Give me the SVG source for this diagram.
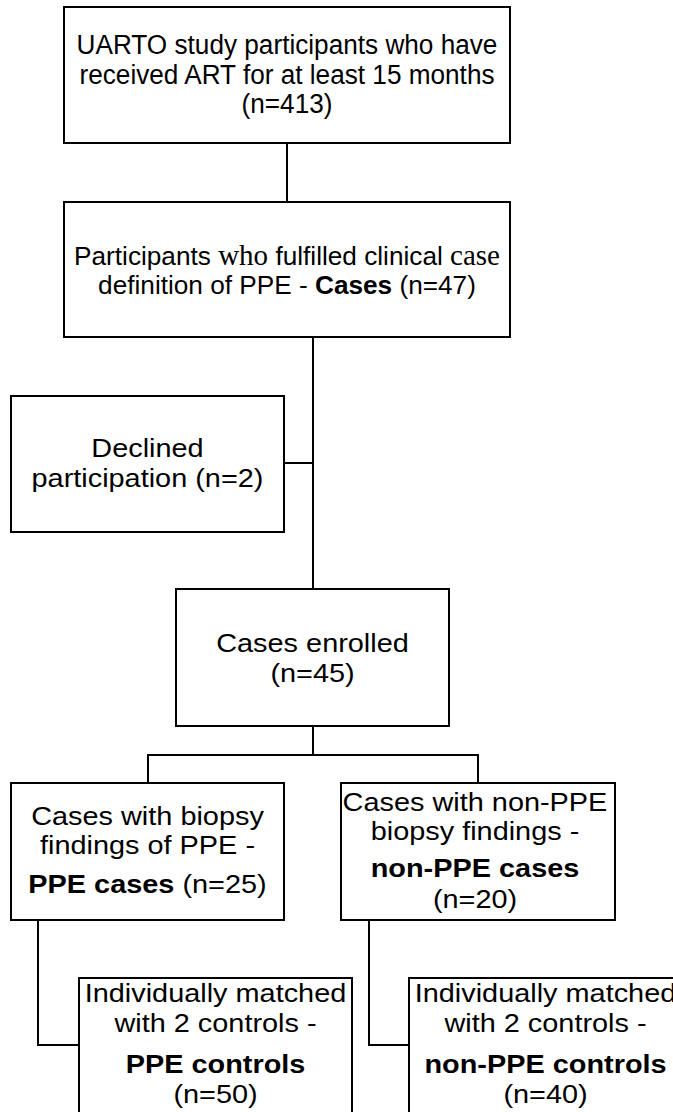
<svg xmlns="http://www.w3.org/2000/svg" width="673" height="1112" viewBox="0 0 673 1112">
  <style>
    .box { fill: #ffffff; stroke: #000000; stroke-width: 2; }
    .link { fill: none; stroke: #000000; stroke-width: 2; }
    text { font-family: "Liberation Sans", Arial, sans-serif; fill: #000000; text-anchor: middle; }
    .t28 { font-size: 28px; }
    .t26 { font-size: 26.2px; }
    .t27 { font-size: 26.5px; }
    .serif { font-family: "Liberation Serif", "Times New Roman", serif; font-size: 29px; }
    .b { font-weight: bold; }
  </style>
  <rect width="673" height="1112" fill="#ffffff"/>

  <!-- connectors -->
  <g id="connectors">
    <path class="link" d="M287,143 V202"/>
    <path class="link" d="M313,337 V589"/>
    <path class="link" d="M284,463 H313"/>
    <path class="link" d="M313,726 V755"/>
    <path class="link" d="M148,783 V755 H478 V783"/>
    <path class="link" d="M38,920 V1045 H79"/>
    <path class="link" d="M369,920 V1045 H409"/>
  </g>

  <!-- study population -->
  <g id="node-uarto">
    <rect class="box" x="64" y="7" width="446" height="136"/>
    <text class="t28" transform="translate(287,54) scale(0.935,1)">UARTO study participants who have</text>
    <text class="t28" transform="translate(287,84) scale(0.935,1)">received ART for at least 15 months</text>
    <text class="t28" transform="translate(287,113) scale(0.935,1)">(n=413)</text>
  </g>

  <!-- clinical case definition -->
  <g id="node-cases">
    <rect class="box" x="64" y="202" width="446" height="135"/>
    <text class="t26" x="287" y="265">Participants <tspan class="serif">who</tspan> fulfilled clinical <tspan class="serif">case</tspan></text>
    <text class="t26" x="287" y="294">definition of PPE - <tspan class="b">Cases</tspan> (n=47)</text>
  </g>

  <!-- declined -->
  <g id="node-declined">
    <rect class="box" x="11" y="396" width="273" height="136"/>
    <text class="t27" transform="translate(147.5,457) scale(1.09,1)">Declined</text>
    <text class="t27" transform="translate(147.5,487) scale(1.09,1)">participation (n=2)</text>
  </g>

  <!-- enrolled -->
  <g id="node-enrolled">
    <rect class="box" x="176" y="589" width="273" height="137"/>
    <text class="t27" transform="translate(312.5,652) scale(1.09,1)">Cases enrolled</text>
    <text class="t27" transform="translate(312.5,682) scale(1.09,1)">(n=45)</text>
  </g>

  <!-- PPE cases -->
  <g id="node-ppe-cases">
    <rect class="box" x="11" y="783" width="273" height="137"/>
    <text class="t27" transform="translate(147.5,825) scale(1.09,1)">Cases with biopsy</text>
    <text class="t27" transform="translate(147.5,854) scale(1.09,1)">findings of PPE -</text>
    <text class="t27" transform="translate(147.5,893) scale(1.09,1)"><tspan class="b">PPE cases</tspan> (n=25)</text>
  </g>

  <!-- non-PPE cases -->
  <g id="node-nonppe-cases">
    <rect class="box" x="341" y="783" width="274" height="137"/>
    <text class="t27" transform="translate(475,811) scale(1.09,1)">Cases with non-PPE</text>
    <text class="t27" transform="translate(475,840) scale(1.09,1)">biopsy findings -</text>
    <text class="t27 b" transform="translate(475,877) scale(1.09,1)">non-PPE cases</text>
    <text class="t27" transform="translate(475,908) scale(1.09,1)">(n=20)</text>
  </g>

  <!-- PPE controls -->
  <g id="node-ppe-controls">
    <rect class="box" x="79" y="978" width="273" height="150"/>
    <text class="t27" transform="translate(215.5,1002) scale(1.09,1)">Individually matched</text>
    <text class="t27" transform="translate(215.5,1032) scale(1.09,1)">with 2 controls -</text>
    <text class="t27 b" transform="translate(215.5,1073) scale(1.09,1)">PPE controls</text>
    <text class="t27" transform="translate(215.5,1103) scale(1.09,1)">(n=50)</text>
  </g>

  <!-- non-PPE controls -->
  <g id="node-nonppe-controls">
    <rect class="box" x="409" y="978" width="273" height="150"/>
    <text class="t27" transform="translate(545.5,1002) scale(1.09,1)">Individually matched</text>
    <text class="t27" transform="translate(545.5,1032) scale(1.09,1)">with 2 controls -</text>
    <text class="t27 b" transform="translate(545.5,1073) scale(1.09,1)">non-PPE controls</text>
    <text class="t27" transform="translate(545.5,1103) scale(1.09,1)">(n=40)</text>
  </g>
</svg>
